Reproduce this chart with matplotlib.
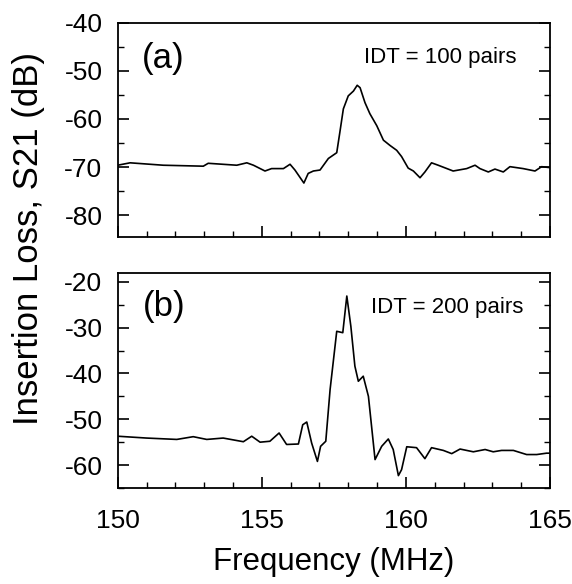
import matplotlib
matplotlib.use("Agg")
import matplotlib.pyplot as plt
from matplotlib.ticker import MultipleLocator

plt.rcParams['font.family'] = ['Liberation Sans', 'DejaVu Sans']
plt.rcParams['axes.unicode_minus'] = False

# Panel (a): IDT = 100 pairs
freq_a = [150.00, 150.43, 151.58, 152.97, 153.14, 154.13, 154.48, 154.71, 155.11, 155.34,
          155.75, 155.98, 156.15, 156.46, 156.61, 156.79, 157.02, 157.31, 157.60, 157.71,
          157.83, 158.00, 158.18, 158.31, 158.41, 158.58, 158.75, 158.99, 159.22, 159.45,
          159.68, 159.85, 160.08, 160.26, 160.49, 160.66, 160.89, 161.12, 161.64, 162.11,
          162.40, 162.57, 162.86, 163.09, 163.38, 163.61, 164.07, 164.48, 164.71, 165.00]
loss_a = [-69.6, -69.1, -69.6, -69.8, -69.2, -69.6, -69.1, -69.6, -70.8, -70.3,
          -70.3, -69.4, -70.6, -73.3, -71.3, -70.8, -70.6, -68.2, -67.0, -62.7,
          -57.9, -55.2, -54.2, -53.0, -53.5, -56.6, -58.9, -61.4, -64.4, -65.5,
          -66.5, -67.8, -70.2, -70.8, -72.2, -71.0, -69.1, -69.6, -70.8, -70.3,
          -69.6, -70.3, -71.0, -70.4, -71.0, -69.9, -70.3, -70.8, -69.9, -70.1]

# Panel (b): IDT = 200 pairs
freq_b = [150.00, 151.00, 152.05, 152.62, 153.09, 153.66, 154.36, 154.65, 154.94, 155.28,
          155.60, 155.86, 156.27, 156.42, 156.56, 156.73, 156.93, 157.04, 157.22, 157.37,
          157.60, 157.81, 157.95, 158.09, 158.23, 158.35, 158.52, 158.70, 158.93, 159.16,
          159.39, 159.56, 159.74, 159.85, 160.03, 160.37, 160.66, 160.89, 161.30, 161.59,
          161.88, 162.34, 162.75, 163.03, 163.32, 163.73, 164.19, 164.54, 164.88, 165.00]
loss_b = [-53.7, -54.1, -54.4, -53.8, -54.4, -54.1, -54.9, -53.7, -55.0, -54.8,
          -53.0, -55.5, -55.4, -51.2, -50.6, -55.2, -59.2, -55.9, -54.8, -43.5,
          -30.8, -31.1, -23.1, -29.7, -38.4, -41.7, -40.6, -45.0, -58.8, -55.9,
          -54.3, -56.6, -62.3, -61.0, -56.0, -56.2, -58.6, -56.2, -56.8, -57.5,
          -56.5, -57.1, -56.6, -57.1, -56.8, -56.8, -57.7, -57.7, -57.4, -57.4]

xticks = [150, 155, 160, 165]
yticks_a = [-40, -50, -60, -70, -80]
yticks_b = [-20, -30, -40, -50, -60]

fig = plt.figure(figsize=(5.72, 5.84), dpi=100)
ax1 = fig.add_axes([0.2058, 0.5942, 0.7557, 0.367])
ax2 = fig.add_axes([0.2058, 0.1644, 0.7557, 0.3687])

tick_fs = 19

def style(ax):
    for s in ax.spines.values():
        s.set_linewidth(1.3)
    ax.xaxis.set_minor_locator(MultipleLocator(1))
    ax.yaxis.set_minor_locator(MultipleLocator(5))
    ax.tick_params(which='both', direction='in', top=False, right=True, bottom=True, left=True)
    ax.tick_params(which='major', length=8, width=1.2, labelsize=tick_fs)
    ax.tick_params(which='minor', length=4, width=1.0)
    ax.tick_params(axis='y', which='major', pad=11)
    ax.tick_params(axis='x', which='major', pad=15)
    ax.set_xlim(150, 165)
    ax.set_xticks(xticks)

ax1.plot(freq_a, loss_a, color='black', lw=1.2)
style(ax1)
ax1.set_ylim(-84.5, -40)
ax1.set_yticks(yticks_a)
ax1.tick_params(labelbottom=False)
ax1.text(0.055, 0.789, '(a)', transform=ax1.transAxes, fontsize=25, va='baseline', ha='left')
ax1.text(0.923, 0.812, 'IDT = 100 pairs', transform=ax1.transAxes, fontsize=16, va='baseline', ha='right')

ax2.plot(freq_b, loss_b, color='black', lw=1.2)
style(ax2)
ax2.set_ylim(-65, -18)
ax2.set_yticks(yticks_b)
ax2.text(0.058, 0.799, '(b)', transform=ax2.transAxes, fontsize=25, va='baseline', ha='left')
ax2.text(0.9375, 0.811, 'IDT = 200 pairs', transform=ax2.transAxes, fontsize=16, va='baseline', ha='right')
ax2.set_xlabel('Frequency (MHz)', fontsize=22.5, labelpad=10)

fig.text(0.05, 0.591, 'Insertion Loss, S21 (dB)', rotation=90, fontsize=25, ha='center', va='center')

fig.savefig('out.png', dpi=100)
